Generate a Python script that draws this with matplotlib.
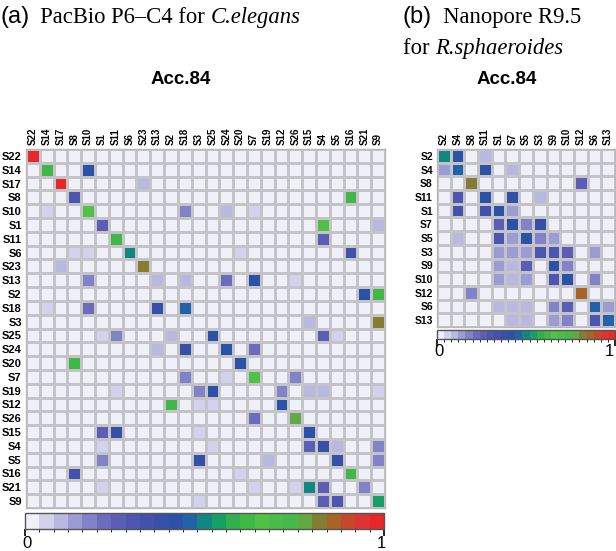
import numpy as np
import matplotlib
matplotlib.use("Agg")
import matplotlib.pyplot as plt
from matplotlib.colors import ListedColormap, BoundaryNorm

# ---- data ----
labels_a = ["S22", "S14", "S17", "S8", "S10", "S1", "S11", "S6", "S23", "S13", "S2", "S18", "S3",
            "S25", "S24", "S20", "S7", "S19", "S12", "S26", "S15", "S4", "S5", "S16", "S21", "S9"]

# (row, column, value) for the non-empty cells
cells_a = [
    ("S22", "S22", 0.98),
    ("S14", "S14", 0.62), ("S14", "S10", 0.42),
    ("S17", "S17", 0.96), ("S17", "S23", 0.10),
    ("S8", "S8", 0.28), ("S8", "S16", 0.62),
    ("S10", "S14", 0.06), ("S10", "S10", 0.66), ("S10", "S18", 0.16), ("S10", "S24", 0.10), ("S10", "S7", 0.06),
    ("S1", "S1", 0.24), ("S1", "S4", 0.64), ("S1", "S9", 0.10),
    ("S11", "S11", 0.62), ("S11", "S4", 0.26),
    ("S6", "S8", 0.06), ("S6", "S10", 0.06), ("S6", "S6", 0.50), ("S6", "S20", 0.06), ("S6", "S16", 0.32),
    ("S23", "S17", 0.10), ("S23", "S23", 0.82),
    ("S13", "S10", 0.18), ("S13", "S13", 0.10), ("S13", "S18", 0.10), ("S13", "S24", 0.22), ("S13", "S7", 0.42),
    ("S13", "S26", 0.06),
    ("S2", "S21", 0.42), ("S2", "S9", 0.62),
    ("S18", "S14", 0.06), ("S18", "S10", 0.22), ("S18", "S13", 0.38), ("S18", "S18", 0.44),
    ("S3", "S15", 0.10), ("S3", "S9", 0.82),
    ("S25", "S1", 0.06), ("S25", "S11", 0.18), ("S25", "S2", 0.10), ("S25", "S25", 0.40), ("S25", "S4", 0.26),
    ("S25", "S5", 0.06),
    ("S24", "S13", 0.10), ("S24", "S18", 0.38), ("S24", "S24", 0.40), ("S24", "S7", 0.22),
    ("S20", "S8", 0.62), ("S20", "S20", 0.40),
    ("S7", "S18", 0.16), ("S7", "S24", 0.06), ("S7", "S7", 0.64), ("S7", "S26", 0.16),
    ("S19", "S11", 0.06), ("S19", "S3", 0.18), ("S19", "S25", 0.40), ("S19", "S12", 0.18), ("S19", "S15", 0.10),
    ("S19", "S4", 0.10), ("S19", "S9", 0.06),
    ("S12", "S2", 0.62), ("S12", "S3", 0.06), ("S12", "S25", 0.06), ("S12", "S12", 0.40),
    ("S26", "S7", 0.22), ("S26", "S26", 0.76),
    ("S15", "S1", 0.24), ("S15", "S11", 0.38), ("S15", "S3", 0.06), ("S15", "S15", 0.40),
    ("S4", "S1", 0.06), ("S4", "S25", 0.06), ("S4", "S15", 0.24), ("S4", "S4", 0.38), ("S4", "S5", 0.10),
    ("S4", "S9", 0.16),
    ("S5", "S1", 0.16), ("S5", "S3", 0.38), ("S5", "S19", 0.10), ("S5", "S5", 0.38), ("S5", "S9", 0.16),
    ("S16", "S8", 0.32), ("S16", "S20", 0.06), ("S16", "S16", 0.62),
    ("S21", "S1", 0.06), ("S21", "S7", 0.06), ("S21", "S26", 0.06), ("S21", "S15", 0.50), ("S21", "S4", 0.26),
    ("S21", "S21", 0.18),
    ("S9", "S3", 0.06), ("S9", "S4", 0.26), ("S9", "S5", 0.30), ("S9", "S9", 0.52),
]

labels_b = ["S2", "S4", "S8", "S11", "S1", "S7", "S5", "S3", "S9", "S10", "S12", "S6", "S13"]

cells_b = [
    ("S2", "S2", 0.50), ("S2", "S4", 0.42), ("S2", "S11", 0.08),
    ("S4", "S2", 0.12), ("S4", "S4", 0.47), ("S4", "S11", 0.40), ("S4", "S7", 0.08),
    ("S8", "S8", 0.82), ("S8", "S12", 0.24),
    ("S11", "S4", 0.30), ("S11", "S11", 0.40), ("S11", "S7", 0.38), ("S11", "S3", 0.08),
    ("S1", "S4", 0.32), ("S1", "S11", 0.32), ("S1", "S1", 0.40), ("S1", "S7", 0.12),
    ("S7", "S1", 0.26), ("S7", "S7", 0.40), ("S7", "S5", 0.18), ("S7", "S3", 0.36),
    ("S5", "S4", 0.08), ("S5", "S1", 0.30), ("S5", "S7", 0.12), ("S5", "S5", 0.42), ("S5", "S3", 0.18),
    ("S5", "S9", 0.12),
    ("S3", "S1", 0.12), ("S3", "S7", 0.12), ("S3", "S5", 0.12), ("S3", "S3", 0.30), ("S3", "S9", 0.30),
    ("S3", "S10", 0.26), ("S3", "S6", 0.12),
    ("S9", "S1", 0.12), ("S9", "S7", 0.08), ("S9", "S5", 0.26), ("S9", "S9", 0.42), ("S9", "S10", 0.18),
    ("S10", "S1", 0.12), ("S10", "S7", 0.08), ("S10", "S5", 0.12), ("S10", "S9", 0.30), ("S10", "S10", 0.42),
    ("S10", "S6", 0.18),
    ("S12", "S8", 0.18), ("S12", "S12", 0.86),
    ("S6", "S1", 0.08), ("S6", "S7", 0.08), ("S6", "S5", 0.08), ("S6", "S9", 0.18), ("S6", "S10", 0.26),
    ("S6", "S6", 0.44), ("S6", "S13", 0.12),
    ("S13", "S7", 0.08), ("S13", "S5", 0.08), ("S13", "S9", 0.12), ("S13", "S10", 0.18), ("S13", "S6", 0.30),
    ("S13", "S13", 0.47),
]

# 25 colour bins of the scale, low to high
bin_colors = ["#f0f0f8", "#d2d2ec", "#b8b8e0", "#9c9cd4", "#8282c8", "#6c6cbc", "#5c5eb6", "#4c56b0",
              "#4252ac", "#3650a8", "#2c52a8", "#2262a8", "#128680", "#14a064", "#30b04c", "#40b848",
              "#52c044", "#4cbc48", "#46b84c", "#62a844", "#847e32", "#a66428", "#c4482c", "#dc3430",
              "#e82828"]


def build(labels, cells):
    idx = {s: i for i, s in enumerate(labels)}
    m = np.zeros((len(labels), len(labels)))
    for r, c, v in cells:
        m[idx[r], idx[c]] = v
    return m


cmap = ListedColormap(bin_colors)
norm = BoundaryNorm(np.linspace(0, 1, len(bin_colors) + 1), cmap.N)

W, H = 616, 551
fig = plt.figure(figsize=(W / 100, H / 100), dpi=100)


def px_axes(x0, y0, x1, y1):
    return fig.add_axes([x0 / W, 1 - y1 / H, (x1 - x0) / W, (y1 - y0) / H])


def heat(ax, m, labels, xfs, yfs):
    n = len(labels)
    im = ax.pcolormesh(np.arange(n + 1), np.arange(n + 1), m, cmap=cmap, norm=norm,
                       edgecolors="#c4c4c8", linewidth=0.8)
    ax.set_xlim(0, n)
    ax.set_ylim(n, 0)
    ax.xaxis.tick_top()
    ax.set_xticks(np.arange(n) + 0.5)
    ax.set_xticklabels(labels, rotation=90, fontsize=xfs, fontweight="bold", family="Liberation Sans")
    ax.set_yticks(np.arange(n) + 0.5)
    ax.set_yticklabels(labels, fontsize=yfs, fontweight="bold", family="Liberation Sans")
    ax.tick_params(length=0, pad=3)
    for s in ax.spines.values():
        s.set_color("#b8b8bc")
        s.set_linewidth(1.0)
    return im


def cbar(im, cax, x0, x1, ylab, fs):
    cb = fig.colorbar(im, cax=cax, orientation="horizontal", ticks=[0, 1])
    cb.outline.set_edgecolor("#555555")
    cb.outline.set_linewidth(1.0)
    cax.tick_params(length=5, width=1.2, labelbottom=False)
    fig.text((x0 + 2) / W, 1 - ylab / H, "0", ha="center", va="center", fontsize=fs, family="Liberation Sans")
    fig.text((x1 - 3) / W, 1 - ylab / H, "1", ha="center", va="center", fontsize=fs, family="Liberation Sans")


ax_a = px_axes(26, 149, 385, 508)
im_a = heat(ax_a, build(labels_a, cells_a), labels_a, 7, 8)
cbar(im_a, px_axes(25, 513, 384, 529), 25, 384, 543, 12)

ax_b = px_axes(437, 149, 615, 327)
im_b = heat(ax_b, build(labels_b, cells_b), labels_b, 7, 7.5)
cbar(im_b, px_axes(437, 330, 615, 339), 437, 612, 351, 12)

fig.text(181 / W, 1 - 79 / H, "Acc.84", ha="center", va="center", fontsize=13.5, fontweight="bold",
         family="Liberation Sans")
fig.text(507 / W, 1 - 79 / H, "Acc.84", ha="center", va="center", fontsize=13.5, fontweight="bold",
         family="Liberation Sans")

# panel headings, drawn piece by piece
renderer = fig.canvas.get_renderer()


def pieces(x, y, parts):
    for txt, kw in parts:
        t = fig.text(x / W, 1 - y / H, txt, ha="left", va="baseline", **kw)
        bb = t.get_window_extent(renderer)
        x += bb.width


sans = dict(family="Liberation Sans", fontsize=17)
serif = dict(family="Liberation Serif", fontsize=16.3)
serif_it = dict(family="Liberation Serif", fontsize=16.3, style="italic")

pieces(0, 23, [("(a)", sans), ("  PacBio P6\u2013C4 for ", serif), ("C.elegans", serif_it)])
pieces(403, 23, [("(b)", sans), ("  Nanopore R9.5", serif)])
pieces(403, 54, [("for ", serif), ("R.sphaeroides", serif_it)])

fig.savefig("out.png", dpi=100)
